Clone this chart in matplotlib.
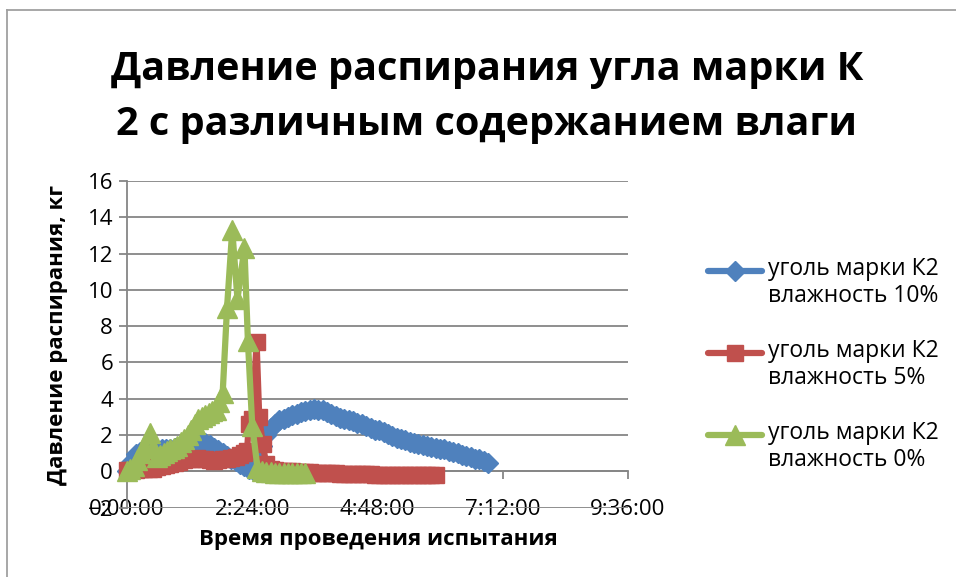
import numpy as np
import matplotlib.pyplot as plt
from matplotlib.lines import Line2D
from matplotlib.ticker import FuncFormatter, MultipleLocator

plt.rcParams['font.family'] = ['Open Sans', 'DejaVu Sans']

# time of test, minutes from start
t_10 = [0, 5, 10, 15, 20, 25, 30, 35, 40, 45, 50, 55, 60, 65, 70, 75, 80, 85, 90, 95,
        100, 105, 110, 115, 120, 125, 130, 135, 140, 145, 150, 155, 160, 165, 170, 175,
        180, 185, 190, 195, 200, 205, 210, 215, 220, 225, 230, 235, 240, 245, 250, 255,
        260, 265, 270, 275, 280, 285, 290, 295, 300, 305, 310, 315, 320, 325, 330, 335,
        340, 345, 350, 355, 360, 365, 370, 375, 380, 385, 390, 395, 400, 405, 410, 415]
p_10 = [0.0, 0.5, 0.95, 1.05, 1.05, 1.1, 1.1, 1.15, 1.2, 1.2, 1.25, 1.3, 1.3, 1.35, 1.4,
        1.5, 1.55, 1.6, 1.55, 1.45, 1.3, 1.15, 1.0, 0.85, 0.7, 0.55, 0.4, 0.3, 0.15, 0.05,
        0.6, 1.4, 2.0, 2.4, 2.6, 2.8, 2.9, 3.0, 3.1, 3.15, 3.25, 3.3, 3.4, 3.45, 3.4, 3.35,
        3.25, 3.15, 3.05, 2.95, 2.9, 2.8, 2.75, 2.65, 2.6, 2.5, 2.4, 2.3, 2.25, 2.15, 2.05,
        1.95, 1.85, 1.75, 1.7, 1.6, 1.55, 1.5, 1.45, 1.4, 1.35, 1.3, 1.25, 1.2, 1.1, 1.05,
        1.0, 0.9, 0.85, 0.8, 0.7, 0.65, 0.55, 0.45]

t_5 = [0, 5, 10, 15, 20, 25, 30, 35, 40, 45, 50, 55, 60, 65, 70, 75, 80, 85, 90, 95,
       100, 105, 110, 115, 120, 125, 130, 135, 138, 140, 144, 149, 152, 156, 160, 165,
       170, 175, 180, 185, 190, 195, 200, 205, 210, 215, 220, 225, 230, 235, 240, 245,
       250, 255, 260, 265, 270, 275, 280, 285, 290, 295, 300, 305, 310, 315, 320, 325,
       330, 335, 340, 345, 350, 355]
p_5 = [0.05, 0.05, 0.05, 0.1, 0.1, 0.1, 0.15, 0.25, 0.3, 0.35, 0.4, 0.45, 0.5, 0.6, 0.65,
       0.7, 0.75, 0.7, 0.65, 0.6, 0.55, 0.6, 0.65, 0.7, 0.75, 0.8, 0.9, 1.0, 1.1, 2.6, 2.9,
       7.1, 3.0, 1.5, 0.4, 0.1, 0.05, 0.0, 0.0, 0.0, 0.0, -0.05, -0.05, -0.05, -0.05, -0.1,
       -0.1, -0.1, -0.1, -0.1, -0.1, -0.15, -0.15, -0.15, -0.15, -0.15, -0.15, -0.15,
       -0.15, -0.2, -0.2, -0.2, -0.2, -0.2, -0.2, -0.2, -0.2, -0.2, -0.2, -0.2, -0.2,
       -0.2, -0.2, -0.2]

t_0 = [0, 4, 8, 12, 16, 20, 26, 30, 34, 38, 42, 46, 50, 54, 58, 62, 66, 70, 74, 78, 82,
       86, 90, 94, 98, 102, 106, 110, 115, 121, 127, 135, 139, 144, 150, 155, 160, 165,
       170, 175, 180, 185, 190, 195, 200, 205]
p_0 = [0.0, 0.1, 0.3, 0.6, 1.0, 1.4, 2.1, 1.3, 0.8, 0.9, 1.0, 1.1, 1.2, 1.3, 1.4, 1.6,
       1.8, 2.0, 2.3, 2.6, 2.9, 3.0, 3.1, 3.2, 3.3, 3.4, 3.8, 4.3, 9.0, 13.3, 9.5, 12.3,
       7.2, 2.5, 0.2, 0.0, -0.05, -0.05, -0.1, -0.1, -0.1, -0.1, -0.1, -0.1, -0.1, -0.1]

labels = ['уголь марки К2\nвлажность 10%',
          'уголь марки К2\nвлажность 5%',
          'уголь марки К2\nвлажность 0%']
colors = ['#4F81BD', '#C0504D', '#9BBB59']
markers = ['D', 's', '^']
msizes = [10, 12, 14]

fig = plt.figure(figsize=(9.56, 5.77), dpi=100)
ax = fig.add_axes([127 / 956, 69.5 / 577, 501 / 956, 326.5 / 577])

series = [(t_10, p_10), (t_5, p_5), (t_0, p_0)]
for (t, p), c, m, ms in zip(series, colors, markers, msizes):
    days = np.array(t) / 1440.0
    ax.plot(days, p, color=c, marker=m, markersize=ms, linewidth=4.5,
            markeredgecolor=c, clip_on=False, zorder=3)

ax.set_xlim(0, 0.4)
ax.set_ylim(-2, 16)
ax.xaxis.set_major_locator(MultipleLocator(0.1))
ax.yaxis.set_major_locator(MultipleLocator(2))


def hms(v, pos):
    s = int(round(v * 86400))
    return '%d:%02d:%02d' % (s // 3600, (s % 3600) // 60, s % 60)


ax.xaxis.set_major_formatter(FuncFormatter(hms))
ax.grid(axis='y', color='#868686', linewidth=1.3)
ax.set_axisbelow(True)
for side in ['top', 'right']:
    ax.spines[side].set_visible(False)
ax.spines['bottom'].set_position(('data', 0))
ax.spines['bottom'].set_color('#868686')
ax.spines['bottom'].set_linewidth(1.3)
ax.spines['left'].set_color('#868686')
ax.spines['left'].set_linewidth(1.3)
ax.tick_params(axis='x', direction='out', length=6, width=1.3, color='#868686',
               pad=14, labelsize=16)
ax.tick_params(axis='y', direction='out', length=6, width=1.3, color='#868686',
               pad=4, labelsize=16)

fig.text(378 / 956, 1 - 540 / 577, 'Время проведения испытания', ha='center',
         va='center', fontsize=16, fontweight='bold')
fig.text(58 / 956, 1 - 335 / 577, 'Давление распирания, кг', ha='center',
         va='center', rotation=90, fontsize=16, fontweight='bold')
fig.text(487 / 956, 1 - 97 / 577,
         'Давление распирания угла марки К\n2 с различным содержанием влаги',
         ha='center', va='center', fontsize=28.5, fontweight='bold', linespacing=1.55)

# legend drawn by hand so the key sits on the first text line
for i, (lab, c, m, ms) in enumerate(zip(labels, colors, markers, msizes)):
    y = 1 - (271 + 82 * i) / 577
    fig.add_artist(Line2D([708 / 956, 762 / 956], [y, y], color=c, linewidth=4.5,
                          solid_capstyle='round'))
    fig.add_artist(Line2D([735 / 956], [y], color=c, marker=m, markersize=ms,
                          markeredgecolor=c))
    fig.text(768 / 956, y + 14 / 577, lab, ha='left', va='top', fontsize=16.5,
             linespacing=1.15)

# chart border
fig.add_artist(Line2D([6.5 / 956, 6.5 / 956], [0, 1 - 10 / 577], color='#A0A0A0',
                      linewidth=1.3))
fig.add_artist(Line2D([6.5 / 956, 1], [1 - 10 / 577, 1 - 10 / 577], color='#A0A0A0',
                      linewidth=1.3))

fig.savefig('out.png', dpi=100)
